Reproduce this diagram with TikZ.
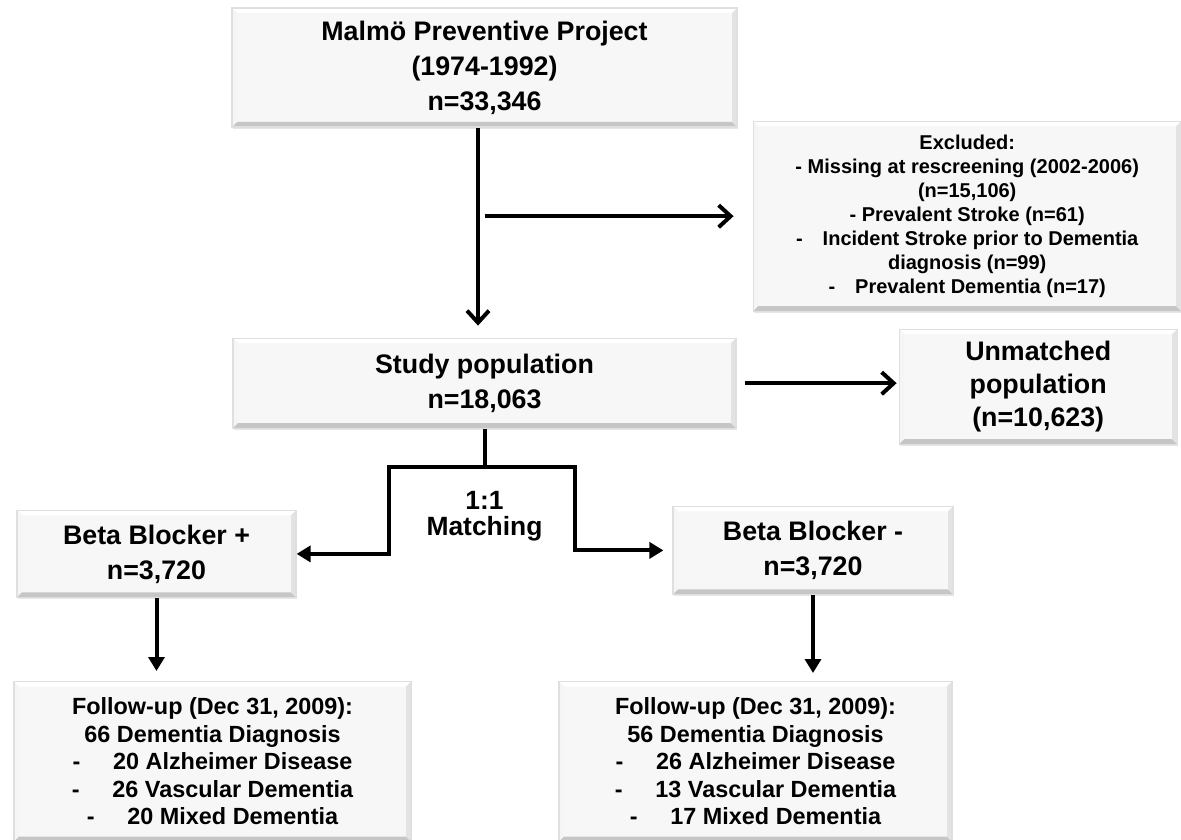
\documentclass[tikz,border=0pt]{standalone}
\usepackage{fontspec}
\setmainfont{Liberation Sans}
\usetikzlibrary{positioning, arrows.meta, shadows}
\tikzstyle{box} = [rectangle, draw=gray!25, fill=gray!6, line width=0.6pt, inner sep=0pt, align=center, font=\bfseries\fontsize{13.4}{17.5}\selectfont, drop shadow={opacity=0.2, shadow xshift=0.6pt, shadow yshift=-1pt},
  path picture={
    \fill[white] (path picture bounding box.north west) -- (path picture bounding box.north east) -- ([shift={(-2.5pt,-2.5pt)}]path picture bounding box.north east) -- ([shift={(2.5pt,-2.5pt)}]path picture bounding box.north west) -- cycle;
    \fill[white!92!gray] (path picture bounding box.north west) -- (path picture bounding box.south west) -- ([shift={(2.5pt,2.5pt)}]path picture bounding box.south west) -- ([shift={(2.5pt,-2.5pt)}]path picture bounding box.north west) -- cycle;
    \fill[gray!45] (path picture bounding box.south west) -- (path picture bounding box.south east) -- ([shift={(-2.5pt,2.5pt)}]path picture bounding box.south east) -- ([shift={(2.5pt,2.5pt)}]path picture bounding box.south west) -- cycle;
    \fill[gray!22] (path picture bounding box.south east) -- (path picture bounding box.north east) -- ([shift={(-2.5pt,-2.5pt)}]path picture bounding box.north east) -- ([shift={(-2.5pt,2.5pt)}]path picture bounding box.south east) -- cycle;
  }]
\tikzstyle{excluded} = [box, font=\bfseries\fontsize{10}{12}\selectfont]
\tikzstyle{followup} = [box, font=\bfseries\fontsize{11.7}{13.75}\selectfont]
\tikzstyle{arrow} = [line width=2pt, -{Straight Barb[length=6pt,width=11pt]}]
\tikzstyle{arrowfill} = [line width=2pt, -{Triangle[length=7pt,width=8pt]}]
\tikzstyle{joint} = [line width=2pt]

\begin{document}
\begin{tikzpicture}
\useasboundingbox (0,0) rectangle (590.5pt,-419.5pt);

\node (mpp) [box, minimum width=252.5pt, minimum height=59.5pt] at (242.25pt,-33.75pt) {Malmö Preventive Project\\(1974-1992)\\n=33,346};
\node (excl) [excluded, minimum width=214pt, minimum height=95pt, below right=-3.5pt and 7.5pt of mpp] {Excluded:\\- Missing at rescreening (2002-2006)\\(n=15,106)\\- Prevalent Stroke (n=61)\\-\hspace{1em}Incident Stroke prior to Dementia\\diagnosis (n=99)\\-\hspace{1em}Prevalent Dementia (n=17)};
\node (study) [box, minimum width=251.5pt, minimum height=45pt, below=105pt of mpp] {Study population\\n=18,063};
\node (unmatched) [box, minimum width=139pt, minimum height=57.5pt, right=81pt of study, yshift=-1.75pt, font=\bfseries\fontsize{13.4}{16.5}\selectfont] {Unmatched\\population\\(n=10,623)};
\node (bbplus) [box, minimum width=139.5pt, minimum height=43.5pt, below=40.5pt of study, xshift=-164pt] {Beta Blocker +\\n=3,720};
\node (bbminus) [box, minimum width=140pt, minimum height=44pt, below=38.5pt of study, xshift=164.25pt] {Beta Blocker -\\n=3,720};
\node (fuplus) [followup, minimum width=198.5pt, minimum height=80pt, below=41.5pt of bbplus, xshift=28pt] {Follow-up (Dec 31, 2009):\\66 Dementia Diagnosis\\-\hspace{1.4em}20 Alzheimer Disease\\-\hspace{1.4em}26 Vascular Dementia\\-\hspace{1.4em}20 Mixed Dementia};
\node (fuminus) [followup, minimum width=196.5pt, minimum height=80pt, below=43pt of bbminus, xshift=-28.75pt] {Follow-up (Dec 31, 2009):\\56 Dementia Diagnosis\\-\hspace{1.4em}26 Alzheimer Disease\\-\hspace{1.4em}13 Vascular Dementia\\-\hspace{1.4em}17 Mixed Dementia};

\coordinate (split) at ([yshift=-19pt]study.south);
\node (matching) [align=center, inner sep=0pt, font=\bfseries\fontsize{13.2}{13}\selectfont, below=12pt of split] {1:1\\Matching};

\draw[arrow, shorten >=6pt] ([xshift=-3.25pt]mpp.south) -- ([xshift=-3.25pt]mpp.south |- study.north);
\draw[arrow, shorten >=9.5pt] (mpp.south |- excl.west) -- (excl.west);
\draw[arrow, shorten <=4pt, shorten >=1pt] (study.east) -- (study.east -| unmatched.west);
\draw[joint] (study.south) -- (split);
\draw[arrowfill] (split) -- ++(-48pt,0) |- (bbplus.east);
\draw[arrowfill, shorten >=4.5pt] (split) -- ++(45pt,0) |- (bbminus.west);
\draw[arrowfill, shorten >=5pt] (bbplus.south) -- (bbplus.south |- fuplus.north);
\draw[arrowfill, shorten >=4pt] (bbminus.south) -- (bbminus.south |- fuminus.north);
\end{tikzpicture}
\end{document}
